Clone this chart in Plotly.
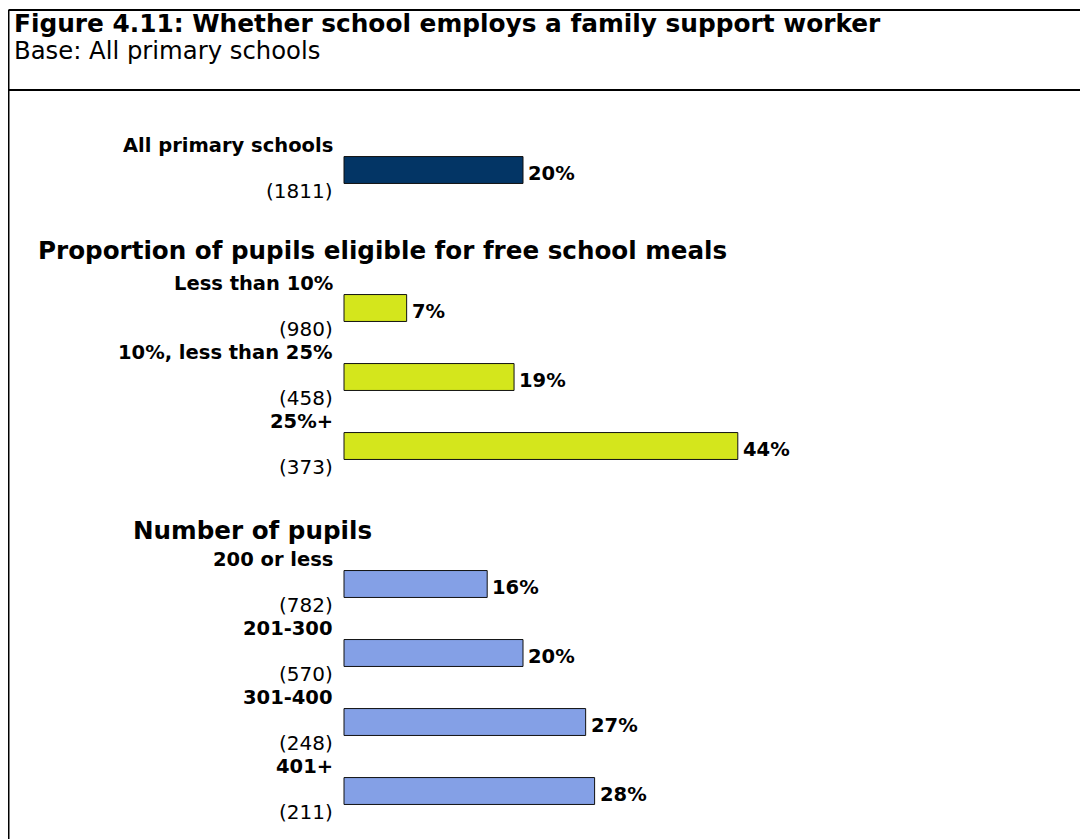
import plotly.graph_objects as go

W, H = 1088, 839

# ---- data ----
title = "Figure 4.11: Whether school employs a family support worker"
subtitle = "Base: All primary schools"

group_headings = ["Proportion of pupils eligible for free school meals", "Number of pupils"]

overall_label = ["All primary schools"]
overall_base = ["(1811)"]
overall_values = [20]

fsm_labels = ["Less than 10%", "10%, less than 25%", "25%+"]
fsm_bases = ["(980)", "(458)", "(373)"]
fsm_values = [7, 19, 44]

size_labels = ["200 or less", "201-300", "301-400", "401+"]
size_bases = ["(782)", "(570)", "(248)", "(211)"]
size_values = [16, 20, 27, 28]

# ---- layout helpers ----
FONT = "DejaVu Sans, Liberation Sans, Arial, sans-serif"
OFF = 8.0           # page body margin in the browser
SLOT_PX = 69.0      # vertical spacing of rows in pixels
FIRST_PX = 170.0 - OFF
X0_PX = 344.0 - OFF
PX_PER_PCT = 8.95

# slot indices (headings occupy slots 1 and 5)
overall_slots = [0]
fsm_slots = [2, 3, 4]
size_slots = [6, 7, 8, 9]
heading_slots = [1, 5]

yr_top = -FIRST_PX / SLOT_PX
yr_bot = (H - FIRST_PX) / SLOT_PX
xr_left = -X0_PX / PX_PER_PCT
xr_right = (W - X0_PX) / PX_PER_PCT

fig = go.Figure()

groups = [
    (overall_slots, overall_values, overall_label, overall_base, "#033565"),
    (fsm_slots, fsm_values, fsm_labels, fsm_bases, "#d4e61c"),
    (size_slots, size_values, size_labels, size_bases, "#84a0e6"),
]

annotations = []
for slots, vals, labels, bases, color in groups:
    fig.add_trace(go.Bar(
        x=vals, y=slots, orientation="h", width=0.39,
        marker=dict(color=color, line=dict(color="#111111", width=1)),
        hoverinfo="skip", showlegend=False,
    ))
    for s, v, lab, b in zip(slots, vals, labels, bases):
        annotations.append(dict(
            x=v, y=s, xref="x", yref="y", text=f"<b>{v}%</b>",
            xanchor="left", yanchor="middle", xshift=3, yshift=-3,
            showarrow=False, font=dict(family=FONT, size=19.5, color="#000000"),
        ))
        annotations.append(dict(
            x=0, y=s, xref="x", yref="y", text=f"<b>{lab}</b>",
            xanchor="right", yanchor="middle", xshift=-9, yshift=25,
            showarrow=False, font=dict(family=FONT, size=19.5, color="#000000"),
        ))
        annotations.append(dict(
            x=0, y=s, xref="x", yref="y", text=b,
            xanchor="right", yanchor="middle", xshift=-9, yshift=-21,
            showarrow=False, font=dict(family=FONT, size=20, color="#000000"),
        ))

heading_x_px = [36 - OFF, 131 - OFF]
heading_yshift = [-11, -15]
for txt, s, xp, ys in zip(group_headings, heading_slots, heading_x_px, heading_yshift):
    annotations.append(dict(
        x=xp / W, y=s, xref="paper", yref="y", text=f"<b>{txt}</b>",
        xanchor="left", yanchor="middle", yshift=ys, showarrow=False,
        font=dict(family=FONT, size=24.6, color="#000000"),
    ))

# title block
annotations.append(dict(
    x=(12 - OFF) / W, y=1 - (24 - OFF) / H, xref="paper", yref="paper", text=f"<b>{title}</b>",
    xanchor="left", yanchor="middle", showarrow=False,
    font=dict(family=FONT, size=24.8, color="#000000"),
))
annotations.append(dict(
    x=(12 - OFF) / W, y=1 - (51 - OFF) / H, xref="paper", yref="paper", text=subtitle,
    xanchor="left", yanchor="middle", showarrow=False,
    font=dict(family=FONT, size=24.3, color="#000000"),
))

top_y = 1 - (10 - OFF) / H
div_y = 1 - (90 - OFF) / H
left_x = 0.5 / W
shapes = [
    dict(type="line", xref="paper", yref="paper", x0=left_x, x1=1.01, y0=top_y, y1=top_y,
         line=dict(color="#000000", width=2)),
    dict(type="line", xref="paper", yref="paper", x0=left_x, x1=left_x, y0=top_y, y1=-0.01,
         line=dict(color="#000000", width=2)),
    dict(type="line", xref="paper", yref="paper", x0=left_x, x1=1.01, y0=div_y, y1=div_y,
         line=dict(color="#000000", width=2)),
]

fig.update_layout(
    width=W, height=H,
    margin=dict(l=0, r=0, t=0, b=0),
    paper_bgcolor="white", plot_bgcolor="white",
    barmode="overlay",
    xaxis=dict(range=[xr_left, xr_right], visible=False, fixedrange=True),
    yaxis=dict(range=[yr_bot, yr_top], visible=False, fixedrange=True),
    annotations=annotations, shapes=shapes, showlegend=False,
)

fig.write_html("out.html")
